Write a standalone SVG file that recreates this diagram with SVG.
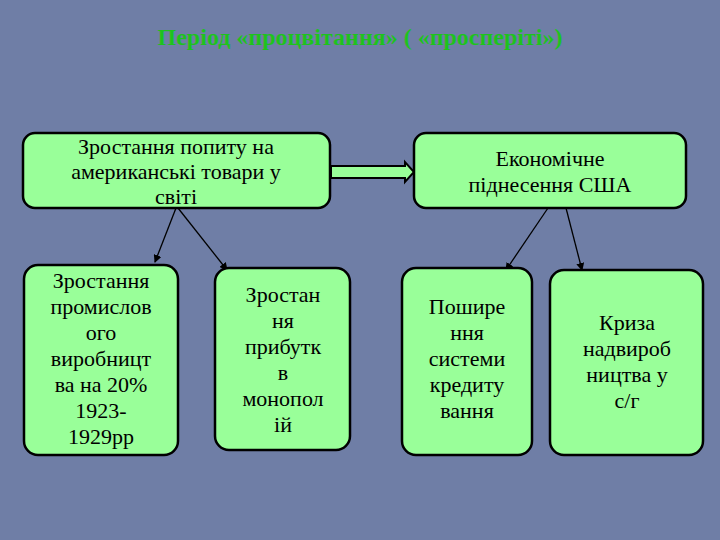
<svg xmlns="http://www.w3.org/2000/svg" width="720" height="540" viewBox="0 0 720 540">
<defs>
<marker id="ah" markerWidth="8" markerHeight="8" refX="7" refY="4" orient="auto" markerUnits="userSpaceOnUse"><path d="M0,0 L8,4 L0,8 Z" fill="#000"/></marker>
</defs>
<style>
.box{fill:#99ff99;stroke:#000;stroke-width:2.5}
.t{font-family:"Liberation Serif",serif;font-size:22px;fill:#000;text-anchor:middle}
.c{stroke:#000;stroke-width:1.3;fill:none}
</style>
<rect width="720" height="540" fill="#6f7ea6"/>
<text x="360" y="45" font-family="Liberation Serif,serif" font-size="24" font-weight="bold" fill="#1ec21e" text-anchor="middle">Період «процвітання» ( «просперіті»)</text>
<g id="connectors">
<path d="M331,166 H405 V162 L414,172 L405,182 V178 H331 Z" fill="#99ff99" stroke="#000" stroke-width="2"/>
<line class="c" x1="176" y1="208" x2="155" y2="262" marker-end="url(#ah)"/>
<line class="c" x1="178" y1="208" x2="227" y2="270" marker-end="url(#ah)"/>
<line class="c" x1="548" y1="208" x2="506" y2="270" marker-end="url(#ah)"/>
<line class="c" x1="566" y1="208" x2="582" y2="270" marker-end="url(#ah)"/>
</g>
<g id="n1"><rect class="box" x="23" y="133" width="307" height="75" rx="12"/>
<text class="t"><tspan x="176" y="154">Зростання попиту на</tspan><tspan x="176" y="179">американські товари у</tspan><tspan x="176" y="204">світі</tspan></text></g>
<g id="n2"><rect class="box" x="414" y="133" width="272" height="75" rx="12"/>
<text class="t"><tspan x="550" y="166">Економічне</tspan><tspan x="550" y="192">піднесення США</tspan></text></g>
<g id="n3"><rect class="box" x="24" y="265" width="154" height="190" rx="14"/>
<text class="t"><tspan x="101" y="288">Зростання</tspan><tspan x="101" y="314">промислов</tspan><tspan x="101" y="340">ого</tspan><tspan x="101" y="366">виробницт</tspan><tspan x="101" y="392">ва на 20%</tspan><tspan x="101" y="418">1923-</tspan><tspan x="101" y="444">1929рр</tspan></text></g>
<g id="n4"><rect class="box" x="215" y="268" width="135" height="182" rx="14"/>
<text class="t"><tspan x="283" y="302">Зростан</tspan><tspan x="283" y="328">ня</tspan><tspan x="283" y="354">прибутк</tspan><tspan x="283" y="380">в</tspan><tspan x="283" y="406">монопол</tspan><tspan x="283" y="432">ій</tspan></text></g>
<g id="n5"><rect class="box" x="402" y="268" width="130" height="187" rx="14"/>
<text class="t"><tspan x="467" y="314">Пошире</tspan><tspan x="467" y="340">ння</tspan><tspan x="467" y="366">системи</tspan><tspan x="467" y="392">кредиту</tspan><tspan x="467" y="418">вання</tspan></text></g>
<g id="n6"><rect class="box" x="550" y="270" width="153" height="185" rx="14"/>
<text class="t"><tspan x="627" y="330">Криза</tspan><tspan x="627" y="356">надвироб</tspan><tspan x="627" y="382">ництва у</tspan><tspan x="627" y="408">с/г</tspan></text></g>
</svg>
